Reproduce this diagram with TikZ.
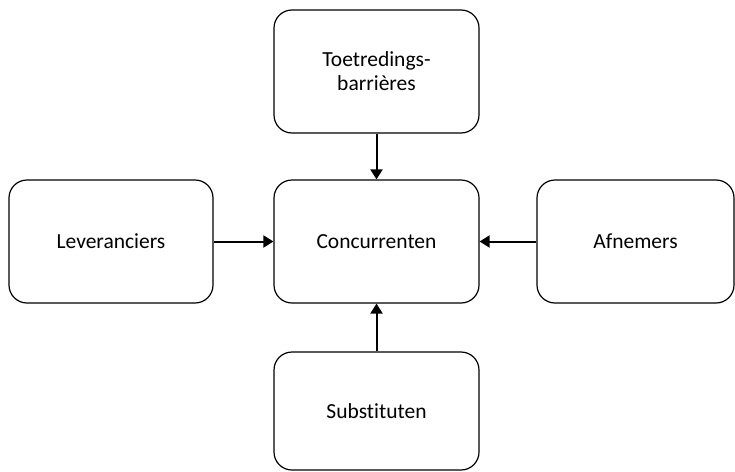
\documentclass[tikz,border=0pt]{standalone}
\usepackage{fontspec}
\setmainfont{Carlito}[Ligatures=NoCommon]
\usetikzlibrary{arrows.meta}
\begin{document}
\begin{tikzpicture}[x=1pt,y=-1pt,
  force/.style={draw=black, line width=1.2pt, rounded corners=18pt, align=center,
    font=\fontsize{21.5}{24}\selectfont, inner sep=0pt},
  link/.style={line width=2pt, -{Triangle[length=10pt,width=12pt]}}]
  \useasboundingbox (0,0) rectangle (735,471);
  \node[force, minimum width=205pt, minimum height=123pt] (entry) at (376.5,71.5) {Toetredings-\\barrières};
  \node[force, minimum width=205pt, minimum height=123pt] (rivals) at (376.5,241.5) {Concurrenten};
  \node[force, minimum width=204pt, minimum height=123pt] (suppliers) at (111,241.5) {Leveranciers};
  \node[force, minimum width=197pt, minimum height=123pt] (buyers) at (635.5,241.5) {Afnemers};
  \node[force, minimum width=205pt, minimum height=118pt] (substitutes) at (376.5,411) {Substituten};
  \draw[link] (entry) -- (rivals);
  \draw[link] (suppliers) -- (rivals);
  \draw[link] (buyers) -- (rivals);
  \draw[link] (substitutes) -- (rivals);
\end{tikzpicture}
\end{document}
